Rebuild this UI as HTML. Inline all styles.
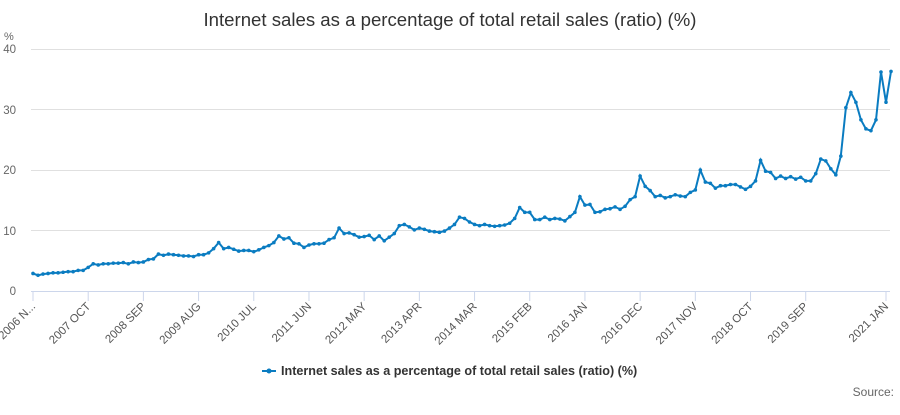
<!DOCTYPE html>
<html><head><meta charset="utf-8"><style>
body{margin:0;background:#fff;font-family:"Liberation Sans",sans-serif;}
svg text{font-family:"Liberation Sans",sans-serif;}
</style></head><body>
<svg id="c" width="900" height="410" viewBox="0 0 900 410" xmlns="http://www.w3.org/2000/svg">
<text x="450" y="26" text-anchor="middle" font-size="18.6" fill="#333">Internet sales as a percentage of total retail sales (ratio) (%)</text>
<text x="4" y="40" font-size="11" fill="#666">%</text>
<g font-size="11.5" fill="#666" text-anchor="end">
<text x="16" y="295">0</text><text x="16" y="235">10</text><text x="16" y="174">20</text><text x="16" y="114">30</text><text x="16" y="53">40</text>
</g>
<g stroke="#e0e0e0" stroke-width="1">
<line x1="31" x2="890" y1="230.5" y2="230.5"/><line x1="31" x2="890" y1="170.5" y2="170.5"/><line x1="31" x2="890" y1="109.5" y2="109.5"/><line x1="31" x2="890" y1="49.5" y2="49.5"/>
</g>
<line x1="31" x2="890" y1="291.5" y2="291.5" stroke="#ccd6eb"/>
<g id="ticks"></g>
<g id="series"></g>
<line x1="262" x2="276" y1="371" y2="371" stroke="#0a7cc1" stroke-width="2"/>
<circle cx="269" cy="371" r="2.5" fill="#0a7cc1"/>
<text x="281" y="375" font-size="12.6" font-weight="bold" fill="#333">Internet sales as a percentage of total retail sales (ratio) (%)</text>
<text x="894" y="396" font-size="12" fill="#666" text-anchor="end">Source:</text>
</svg>
<script>
var d=[2.9,2.6,
2.8,2.9,3.0,3.0,3.1,3.2,3.2,3.4,3.4,3.9,4.5,4.3,
4.5,4.5,4.6,4.6,4.7,4.5,4.8,4.7,4.8,5.2,5.3,6.1,
5.9,6.1,6.0,5.9,5.8,5.8,5.7,6.0,6.0,6.3,7.0,8.0,
7.0,7.2,6.9,6.6,6.7,6.7,6.5,6.8,7.2,7.5,8.0,9.1,
8.6,8.8,7.9,7.8,7.2,7.6,7.8,7.8,7.9,8.5,8.8,10.4,
9.5,9.6,9.3,8.9,9.0,9.2,8.5,9.1,8.3,8.9,9.5,10.8,
11.0,10.6,10.1,10.4,10.2,9.9,9.8,9.7,9.9,10.4,11.0,12.2,
12.0,11.4,11.0,10.8,11.0,10.8,10.7,10.8,10.9,11.2,12.0,13.8,
13.0,13.0,11.8,11.8,12.2,11.8,12.0,11.9,11.6,12.3,13.0,15.6,
14.2,14.3,13.0,13.1,13.5,13.6,13.9,13.5,14.0,15.1,15.6,19.0,
17.3,16.6,15.6,15.8,15.4,15.6,15.9,15.7,15.6,16.3,16.7,20.0,
18.0,17.8,17.0,17.4,17.4,17.6,17.6,17.2,16.8,17.3,18.2,21.6,
19.8,19.6,18.6,19.0,18.6,18.9,18.5,18.8,18.2,18.2,19.4,21.8,
21.5,20.2,19.2,22.3,30.3,32.8,31.2,28.3,26.8,26.5,28.3,36.2,
31.2,36.3];
var NS="http://www.w3.org/2000/svg";
function X(i){return 33+i*(853/170);}function Y(v){return 291-v*6.05;}
var p="",s=document.getElementById("series");
d.forEach(function(v,i){p+=(i?"L":"M")+X(i).toFixed(1)+","+Y(v).toFixed(1);});
var path=document.createElementNS(NS,"path");path.setAttribute("d",p);path.setAttribute("fill","none");path.setAttribute("stroke","#0a7cc1");path.setAttribute("stroke-width","2");s.appendChild(path);
d.forEach(function(v,i){var c=document.createElementNS(NS,"circle");c.setAttribute("cx",X(i));c.setAttribute("cy",Y(v));c.setAttribute("r","1.8");c.setAttribute("fill","#0a7cc1");s.appendChild(c);});
var labs=["2006 N...","2007 OCT","2008 SEP","2009 AUG","2010 JUL","2011 JUN","2012 MAY","2013 APR","2014 MAR","2015 FEB","2016 JAN","2016 DEC","2017 NOV","2018 OCT","2019 SEP","2021 JAN"];
var t=document.getElementById("ticks");
labs.forEach(function(l,k){var i=k<15?k*11:170;var x=X(i);
var ln=document.createElementNS(NS,"line");ln.setAttribute("x1",x);ln.setAttribute("x2",x);ln.setAttribute("y1",291);ln.setAttribute("y2",301);ln.setAttribute("stroke","#ccd6eb");t.appendChild(ln);
var tx=document.createElementNS(NS,"text");tx.setAttribute("x",x+3);tx.setAttribute("y",307);tx.setAttribute("font-size","11.5");tx.setAttribute("fill","#555");tx.setAttribute("text-anchor","end");tx.setAttribute("transform","rotate(-45 "+(x+3)+" 307)");tx.textContent=l;t.appendChild(tx);});
</script>
</body></html>
